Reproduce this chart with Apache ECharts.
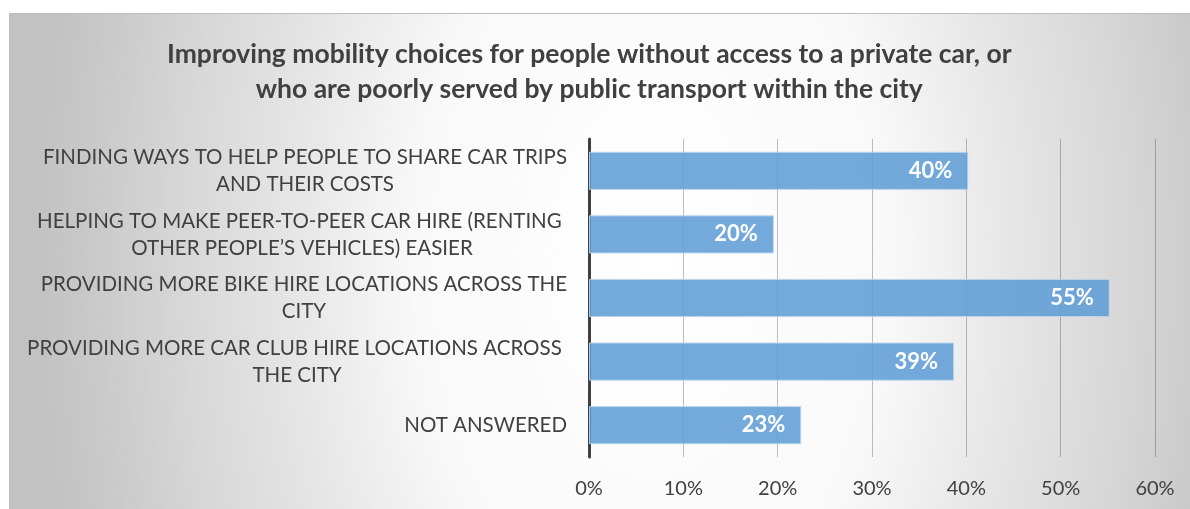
<!DOCTYPE html>
<html>
<head>
<meta charset="utf-8">
<script src="https://cdn.jsdelivr.net/npm/echarts@6/dist/echarts.min.js"></script>
<style>
  html, body { margin: 0; padding: 0; background: #ffffff; }
  #wrap {
    position: absolute; left: 9px; top: 13px; width: 1183px; height: 498px;
    box-sizing: border-box; border: 1px solid #bdbdbd;
    background: radial-gradient(ellipse 620px 1000px at 54.5% 50%, #ffffff 0%, #f9f9f9 38%, #e6e6e6 58%, #d8d8d8 75%, #c8c8c8 92%, #c2c2c2 100%);
  }
  #chart { position: absolute; left: 0; top: 0; width: 1181px; height: 496px; }
</style>
</head>
<body>
<div id="wrap"><div id="chart"></div></div>
<script>
const titleLines = [
  "Improving mobility choices for people without access to a private car, or",
  "who are poorly served by public transport within the city"
];
const categories = [
  "FINDING WAYS TO HELP PEOPLE TO SHARE CAR TRIPS\nAND THEIR COSTS",
  "HELPING TO MAKE PEER-TO-PEER CAR HIRE (RENTING \nOTHER PEOPLE\u2019S VEHICLES) EASIER",
  "PROVIDING MORE BIKE HIRE LOCATIONS ACROSS THE\nCITY",
  "PROVIDING MORE CAR CLUB HIRE LOCATIONS ACROSS \nTHE CITY",
  "NOT ANSWERED"
];
const values = [40.2, 19.6, 55.2, 38.7, 22.5];
const valueLabels = ["40%", "20%", "55%", "39%", "23%"];
const xTicks = [0, 10, 20, 30, 40, 50, 60];

const FONT = "Lato, 'Open Sans', sans-serif";
const chart = echarts.init(document.getElementById('chart'), null, { renderer: 'canvas' });
chart.setOption({
  backgroundColor: 'transparent',
  animation: false,
  title: {
    text: titleLines.map(l => '{t|' + l + '}').join('\n'),
    left: 152,
    top: 18,
    textStyle: {
      fontFamily: FONT, fontWeight: 'bold', fontSize: 26.5, color: '#404040', lineHeight: 35,
      rich: { t: { align: 'center', fontFamily: FONT, fontWeight: 'bold', fontSize: 26.5, color: '#404040', lineHeight: 35 } }
    }
  },
  grid: { left: 579, right: 36, top: 125, bottom: 53, containLabel: false },
  xAxis: {
    type: 'value',
    min: xTicks[0], max: xTicks[xTicks.length - 1], interval: 10,
    axisLine: { show: false },
    axisTick: { show: false },
    splitLine: { show: true, lineStyle: { color: 'rgba(0,0,0,0.25)', width: 1 } },
    axisLabel: {
      margin: 22,
      color: '#404040', fontFamily: FONT, fontSize: 20,
      formatter: v => v + '%'
    }
  },
  yAxis: {
    type: 'category',
    inverse: true,
    data: categories,
    axisLine: { show: true, lineStyle: { color: '#404040', width: 3 } },
    axisTick: { show: false },
    splitLine: { show: false },
    axisLabel: {
      margin: 22,
      color: '#404040', fontFamily: FONT, fontSize: 20.5, lineHeight: 27,
      formatter: v => v.split('\n').map(l => '{c|' + l + '}').join('\n'),
      rich: { c: { align: 'center', color: '#404040', fontFamily: FONT, fontSize: 20.5, lineHeight: 27 } }
    }
  },
  series: [{
    type: 'bar',
    data: values,
    barCategoryGap: '40%',
    itemStyle: { color: 'rgba(91,155,213,0.85)', borderColor: 'rgba(189,215,238,0.9)', borderWidth: 1 },
    label: {
      show: true, position: 'insideRight', distance: 16,
      color: '#ffffff', fontFamily: FONT, fontWeight: 'bold', fontSize: 22,
      formatter: p => valueLabels[p.dataIndex]
    }
  }]
});
</script>
</body>
</html>
